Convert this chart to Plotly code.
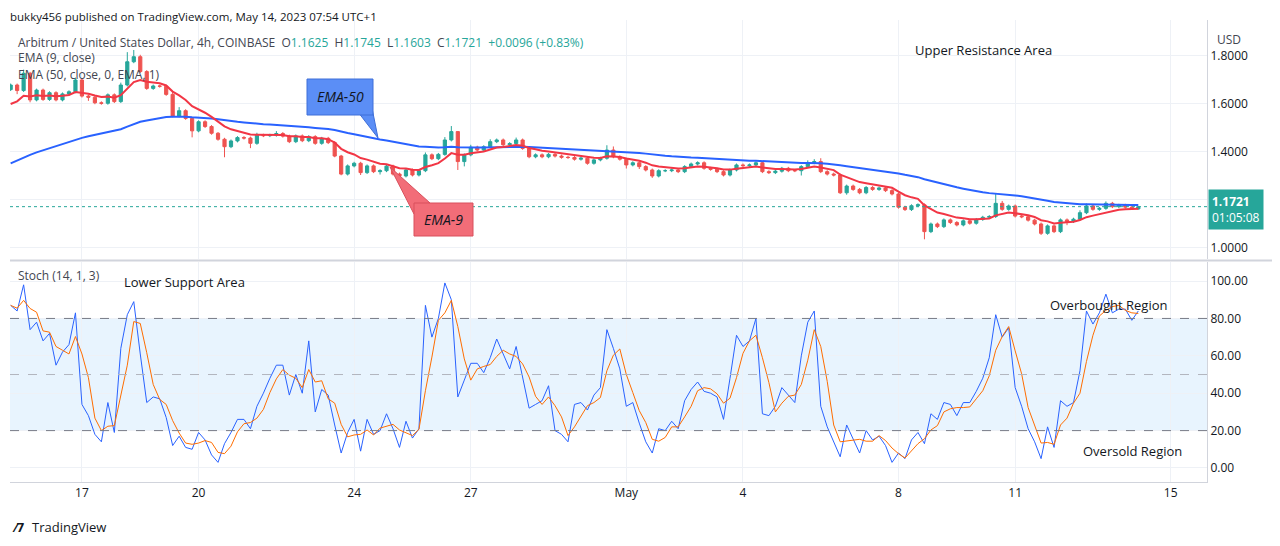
import plotly.graph_objects as go

# ---------------- data ----------------
FIRST_OPEN = 1.660
CLOSE = [
 1.679,1.656,1.728,1.617,1.658,1.619,1.647,1.617,1.642,1.651,1.700,1.633,1.628,1.605,1.603,1.638,1.610,1.679,1.776,1.797,1.735,1.665,1.675,1.674,1.640,
 1.550,1.572,1.540,1.488,1.526,1.506,1.478,1.453,1.422,1.446,1.460,1.458,1.436,1.470,1.468,1.470,1.477,1.466,1.443,1.467,1.447,1.464,1.436,1.457,1.439,
 1.383,1.308,1.342,1.353,1.314,1.342,1.318,1.322,1.341,1.308,1.300,1.325,1.304,1.322,1.388,1.372,1.390,1.450,1.485,1.360,1.388,1.420,1.408,1.422,1.443,
 1.450,1.430,1.435,1.450,1.415,1.380,1.388,1.380,1.390,1.383,1.378,1.377,1.370,1.374,1.353,1.367,1.374,1.408,1.380,1.370,1.346,1.355,1.339,1.325,1.300,
 1.322,1.322,1.325,1.318,1.339,1.350,1.355,1.332,1.328,1.318,1.304,1.325,1.346,1.343,1.346,1.355,1.318,1.314,1.320,1.332,1.322,1.322,1.339,1.355,1.360,
 1.318,1.308,1.304,1.230,1.258,1.244,1.230,1.252,1.244,1.250,1.239,1.225,1.170,1.160,1.176,1.180,1.068,1.100,1.089,1.117,1.106,1.096,1.113,1.103,1.119,
 1.128,1.131,1.186,1.161,1.175,1.133,1.130,1.116,1.100,1.061,1.092,1.068,1.117,1.110,1.120,1.147,1.175,1.161,1.165,1.186,1.172,1.178,1.170,1.1625,1.1721,
]
WICK_UP_MILLI = [
 6,6,15,6,6,6,6,6,6,6,10,6,6,6,6,6,6,10,40,28,8,6,6,6,6,
 10,15,6,5,6,6,6,5,6,6,6,6,6,10,6,6,10,6,6,6,6,6,6,6,6,
 6,5,6,6,6,6,6,6,6,6,6,6,6,6,10,6,6,12,23,0,6,10,6,6,10,
 6,6,6,10,6,6,6,6,6,6,6,6,6,6,6,6,6,20,15,6,6,6,6,6,6,
 6,6,6,6,6,6,6,6,6,6,6,6,6,6,6,6,6,6,6,6,6,6,6,10,10,
 14,6,6,6,6,6,6,6,6,6,6,6,6,6,6,6,6,6,6,6,6,6,6,6,6,
 6,6,40,10,6,6,6,6,6,6,6,6,6,6,6,10,10,6,6,8,6,6,6,6,2.4,
]
WICK_DOWN_MILLI = [
 6,15,6,10,6,6,6,6,6,6,6,6,15,6,6,6,6,6,6,6,6,6,6,6,6,
 6,6,6,27,6,6,6,6,44,6,6,6,20,6,6,6,6,6,6,6,6,6,6,6,6,
 5,5,6,6,10,6,6,12,6,6,6,6,6,6,6,6,6,6,6,35,20,6,6,6,6,
 6,6,6,6,6,6,6,6,6,6,6,6,6,6,6,6,6,6,6,6,15,6,10,6,8,
 6,6,6,6,6,6,6,6,6,6,6,6,6,6,6,6,6,6,6,6,6,6,20,6,6,
 6,6,6,5,8,6,6,6,6,6,6,6,6,6,6,6,32,6,6,6,6,6,6,6,6,
 6,6,6,6,6,6,6,6,6,7,6,6,6,15,6,6,6,6,6,6,6,6,6,2,2.2,
]
STOCH_K = [
 87,84,98,74,78,68,72,55,62,66,83,34,28,18,14,35,19,64,82,89,61,35,38,37,27,12,17,11,10,19,15,7,3,13,19,26,26,21,33,40,48,55,55,39,50,40,68,30,42,39,23,8,19,26,9,26,18,20,29,21,11,
 25,16,21,87,70,80,99,90,38,47,56,56,51,59,69,61,53,65,49,32,34,36,44,20,18,14,34,35,31,39,43,74,64,53,33,35,24,14,8,21,20,25,21,36,42,46,41,40,38,26,48,71,65,68,80,29,28,33,43,39,
 35,60,78,84,33,22,14,6,23,15,8,20,15,17,12,3,8,5,15,19,13,29,26,35,34,28,35,35,41,48,59,82,70,75,43,33,21,14,5,22,11,36,33,35,52,84,77,83,93,83,85,85,79,84,
]
EMA9_SEED = 1.58
EMA50_SEED = 1.339
TICK_INDEX = [11, 29, 53, 71, 95, 113, 137, 155, 179]
TICK_TEXT = ["17", "20", "24", "27", "May", "4", "8", "11", "15"]
LAST_PRICE = 1.1721

# ---------------- derived ----------------
n = len(CLOSE)
x = list(range(n))
OPEN = [FIRST_OPEN] + CLOSE[:-1]
HIGH = [max(o, c) + u / 1000 for o, c, u in zip(OPEN, CLOSE, WICK_UP_MILLI)]
LOW = [min(o, c) - d / 1000 for o, c, d in zip(OPEN, CLOSE, WICK_DOWN_MILLI)]

def ema(vals, period, seed):
    a = 2 / (period + 1)
    out, e = [], seed
    for v in vals:
        e = e + a * (v - e)
        out.append(e)
    return out

ema9 = ema(CLOSE, 9, EMA9_SEED)
ema50 = ema(CLOSE, 50, EMA50_SEED)
stoch_d = []
for i in range(n):
    w = STOCH_K[max(0, i - 2): i + 1]
    stoch_d.append(sum(w) / len(w))

UP, DN = "#26a69a", "#ef5350"
TXT = "#131722"
GRID = "#eef1f6"

fig = go.Figure()
fig.add_trace(go.Candlestick(
    x=x, open=OPEN, high=HIGH, low=LOW, close=CLOSE, xaxis="x", yaxis="y",
    increasing=dict(line=dict(color=UP, width=1), fillcolor=UP),
    decreasing=dict(line=dict(color=DN, width=1), fillcolor=DN),
    whiskerwidth=0, showlegend=False, hoverinfo="skip"))
fig.add_trace(go.Scatter(x=x, y=ema50, mode="lines", line=dict(color="#2962ff", width=2),
                         xaxis="x", yaxis="y", showlegend=False, hoverinfo="skip"))
fig.add_trace(go.Scatter(x=x, y=ema9, mode="lines", line=dict(color="#f23645", width=2),
                         xaxis="x", yaxis="y", showlegend=False, hoverinfo="skip"))
fig.add_trace(go.Scatter(x=x, y=STOCH_K, mode="lines", line=dict(color="#2962ff", width=1),
                         xaxis="x2", yaxis="y2", showlegend=False, hoverinfo="skip"))
fig.add_trace(go.Scatter(x=x, y=stoch_d, mode="lines", line=dict(color="#ff6d00", width=1),
                         xaxis="x2", yaxis="y2", showlegend=False, hoverinfo="skip"))

# page coordinates of the plot area (page has an 8px body margin)
OFF = 8
L, R, T, B = 10, 1207, 20, 482
W, H = R - L, B - T
def px(v): return (v - L) / W
def py(v): return (B - v) / H

xr = [-0.1, 184.6]
fig.update_layout(
    width=1280, height=546,
    margin=dict(l=L - OFF, r=1280 - (R - OFF), t=T - OFF, b=546 - (B - OFF)),
    paper_bgcolor="white", plot_bgcolor="white",
    font=dict(family="Open Sans, DejaVu Sans, sans-serif", size=12, color=TXT),
    xaxis=dict(domain=[0, 1], range=xr, anchor="y", showticklabels=False,
               tickvals=TICK_INDEX, showgrid=True, gridcolor=GRID, zeroline=False,
               rangeslider=dict(visible=False)),
    xaxis2=dict(domain=[0, 1], range=xr, anchor="y2", matches="x",
                tickvals=TICK_INDEX, ticktext=TICK_TEXT, showgrid=True, gridcolor=GRID,
                zeroline=False, ticks="", tickfont=dict(size=12, color=TXT),
                showline=True, linecolor="#d1d4dc"),
    yaxis=dict(domain=[py(259), 1], range=[0.954, 1.95], side="right",
               tickvals=[1.0, 1.2, 1.4, 1.6, 1.8], tickformat=".4f",
               showgrid=True, gridcolor=GRID, zeroline=False, ticks="",
               tickfont=dict(size=12, color=TXT), showline=True, linecolor="#d1d4dc"),
    yaxis2=dict(domain=[0, py(262)], range=[-7.5, 110.2], side="right",
                tickvals=[0, 20, 40, 60, 80, 100], tickformat=".2f",
                showgrid=True, gridcolor=GRID, zeroline=False, ticks="",
                tickfont=dict(size=12, color=TXT), showline=True, linecolor="#d1d4dc"),
)

shapes = [
    dict(type="rect", xref="x2 domain", yref="y2", x0=0, x1=1, y0=20, y1=80,
         fillcolor="rgba(33,150,243,0.10)", line=dict(width=0), layer="below"),
]
for lvl, c in [(80, "#787b86"), (50, "#b2b5be"), (20, "#787b86")]:
    shapes.append(dict(type="line", xref="x2 domain", yref="y2", x0=0, x1=1, y0=lvl, y1=lvl,
                       line=dict(color=c, width=1, dash="dash")))
shapes.append(dict(type="line", xref="x domain", yref="y", x0=0, x1=1, y0=LAST_PRICE, y1=LAST_PRICE,
                   line=dict(color=UP, width=1, dash="dot")))
shapes.append(dict(type="line", xref="paper", yref="paper", x0=0, x1=1.06, y0=py(260.5), y1=py(260.5),
                   line=dict(color="#d1d4dc", width=2)))

def poly(pts):
    return "M " + " L ".join(f"{px(a):.5f},{py(b):.5f}" for a, b in pts) + " Z"

shapes.append(dict(type="path", xref="paper", yref="paper", path=poly([(358, 112), (372, 108), (378, 138)]),
                   fillcolor="#5b8ef6", line=dict(color="#3f6fd8", width=1)))
shapes.append(dict(type="rect", xref="paper", yref="paper", x0=px(307), x1=px(373), y0=py(115), y1=py(79),
                   fillcolor="#5b8ef6", line=dict(color="#3f6fd8", width=1)))
shapes.append(dict(type="path", xref="paper", yref="paper", path=poly([(390, 167), (414, 214), (430, 203)]),
                   fillcolor="#f26d78", line=dict(color="#d9505c", width=1)))
shapes.append(dict(type="rect", xref="paper", yref="paper", x0=px(414), x1=px(473), y0=py(236), y1=py(203),
                   fillcolor="#f26d78", line=dict(color="#d9505c", width=1)))
fig.update_layout(shapes=shapes)

def ann(text, xx, yy, xanchor="left", size=12, color=TXT, **kw):
    fig.add_annotation(text=text, xref="paper", yref="paper", x=px(xx), y=py(yy),
                       xanchor=xanchor, yanchor="middle", showarrow=False,
                       font=dict(size=size, color=color), **kw)

ann("bukky456 published on TradingView.com, May 14, 2023 07:54 UTC+1", 8, 16, size=11.5)
ann("Arbitrum / United States Dollar, 4h, COINBASE  O<span style='color:#26a69a'>1.1625</span>"
    "  H<span style='color:#26a69a'>1.1745</span>  L<span style='color:#26a69a'>1.1603</span>"
    "  C<span style='color:#26a69a'>1.1721</span>  <span style='color:#26a69a'>+0.0096 (+0.83%)</span>",
    16, 42, color="#434651")
ann("EMA (9, close)", 16, 58, color="#434651")
ann("EMA (50, close, 0, EMA, 1)", 16, 74, color="#434651")
ann("Upper Resistance Area", 983, 50, xanchor="center", size=13)
ann("<i>EMA-50</i>", 340, 97, xanchor="center", size=14)
ann("<i>EMA-9</i>", 443, 219, xanchor="center", size=14)
ann("Stoch (14, 1, 3)", 16, 275, color="#434651")
ann("Lower Support Area", 122, 282, size=13)
ann("Overbought Region", 1108, 305, xanchor="center", size=13)
ann("Oversold Region", 1132, 451, xanchor="center", size=13)
ann("USD", 1215, 40, color="#434651")
fig.add_annotation(text="<b>1.1721</b><br>01:05:08", xref="paper", yref="y", x=px(1208), y=1.16,
                   xanchor="left", yanchor="middle", showarrow=False, align="left",
                   bgcolor=UP, borderpad=3, font=dict(size=12, color="white"))
ann("<b>⁄7</b>", 10, 527, size=13)
ann("TradingView", 30, 527, size=13)

fig.write_html("out.html")
